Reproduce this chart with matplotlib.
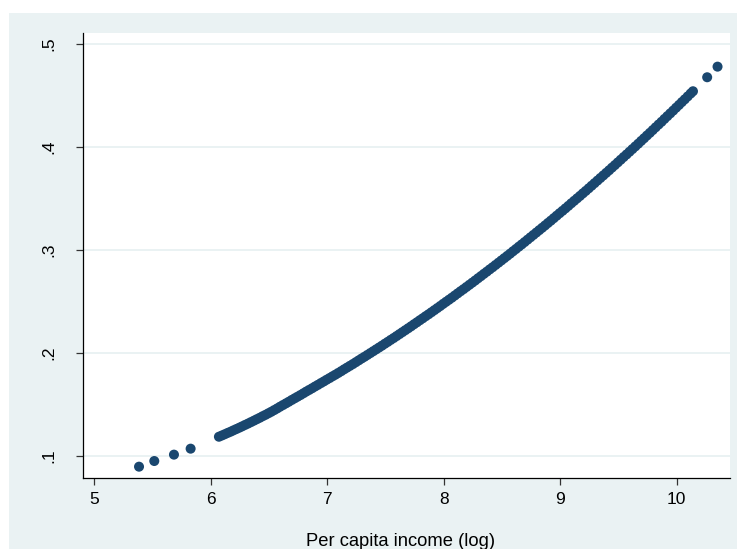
import matplotlib
matplotlib.use("Agg")
import matplotlib.pyplot as plt
from matplotlib.patches import Rectangle

# Isolated low/high points
x_iso = [5.384, 5.515, 5.684, 5.827, 10.262, 10.351]
y_iso = [0.0893, 0.0948, 0.1010, 0.1068, 0.4677, 0.4780]

# Dense band of points
x_dense = [6.07, 6.12, 6.17, 6.22, 6.27, 6.32, 6.37, 6.42, 6.47, 6.52,
           6.57, 6.62, 6.67, 6.72, 6.77, 6.82, 6.87, 6.92, 6.97, 7.02,
           7.07, 7.12, 7.17, 7.22, 7.27, 7.32, 7.37, 7.42, 7.47, 7.52,
           7.57, 7.62, 7.67, 7.72, 7.77, 7.82, 7.87, 7.92, 7.97, 8.02,
           8.07, 8.12, 8.17, 8.22, 8.27, 8.32, 8.37, 8.42, 8.47, 8.52,
           8.57, 8.62, 8.67, 8.72, 8.77, 8.82, 8.87, 8.92, 8.97, 9.02,
           9.07, 9.12, 9.17, 9.22, 9.27, 9.32, 9.37, 9.42, 9.47, 9.52,
           9.57, 9.62, 9.67, 9.72, 9.77, 9.82, 9.87, 9.92, 9.97, 10.02,
           10.07, 10.12, 10.14]
y_dense = [0.1184, 0.1208, 0.1233, 0.1259, 0.1285, 0.1312, 0.1340, 0.1368, 0.1397, 0.1427,
           0.1459, 0.1492, 0.1524, 0.1557, 0.1589, 0.1623, 0.1655, 0.1688, 0.1721, 0.1754,
           0.1787, 0.1821, 0.1856, 0.1890, 0.1926, 0.1961, 0.1997, 0.2033, 0.2069, 0.2106,
           0.2143, 0.2181, 0.2219, 0.2257, 0.2296, 0.2335, 0.2374, 0.2414, 0.2454, 0.2495,
           0.2535, 0.2577, 0.2618, 0.2660, 0.2702, 0.2745, 0.2788, 0.2831, 0.2875, 0.2919,
           0.2963, 0.3008, 0.3053, 0.3099, 0.3145, 0.3191, 0.3237, 0.3284, 0.3332, 0.3379,
           0.3427, 0.3476, 0.3524, 0.3573, 0.3623, 0.3673, 0.3723, 0.3773, 0.3824, 0.3876,
           0.3927, 0.3979, 0.4031, 0.4084, 0.4137, 0.4191, 0.4244, 0.4299, 0.4353, 0.4408,
           0.4463, 0.4519, 0.4541]

# More observations lying between the ones above
x_dense2 = [6.095, 6.145, 6.195, 6.245, 6.295, 6.345, 6.395, 6.445, 6.495, 6.545,
            6.595, 6.645, 6.695, 6.745, 6.795, 6.845, 6.895, 6.945, 6.995, 7.045,
            7.095, 7.145, 7.195, 7.245, 7.295, 7.345, 7.395, 7.445, 7.495, 7.545,
            7.595, 7.645, 7.695, 7.745, 7.795, 7.845, 7.895, 7.945, 7.995, 8.045,
            8.095, 8.145, 8.195, 8.245, 8.295, 8.345, 8.395, 8.445, 8.495, 8.545,
            8.595, 8.645, 8.695, 8.745, 8.795, 8.845, 8.895, 8.945, 8.995, 9.045,
            9.095, 9.145, 9.195, 9.245, 9.295, 9.345, 9.395, 9.445, 9.495, 9.545,
            9.595, 9.645, 9.695, 9.745, 9.795, 9.845, 9.895, 9.945, 9.995, 10.045,
            10.095]
y_dense2 = [0.1196, 0.1221, 0.1246, 0.1272, 0.1299, 0.1326, 0.1354, 0.1383, 0.1412, 0.1443,
            0.1476, 0.1508, 0.1541, 0.1573, 0.1606, 0.1639, 0.1672, 0.1705, 0.1738, 0.1771,
            0.1804, 0.1839, 0.1873, 0.1908, 0.1944, 0.1979, 0.2015, 0.2051, 0.2088, 0.2125,
            0.2162, 0.2200, 0.2238, 0.2277, 0.2316, 0.2355, 0.2394, 0.2434, 0.2475, 0.2515,
            0.2556, 0.2598, 0.2639, 0.2681, 0.2724, 0.2767, 0.2810, 0.2853, 0.2897, 0.2941,
            0.2986, 0.3031, 0.3076, 0.3122, 0.3168, 0.3214, 0.3261, 0.3308, 0.3356, 0.3403,
            0.3452, 0.3500, 0.3549, 0.3598, 0.3648, 0.3698, 0.3748, 0.3799, 0.3850, 0.3902,
            0.3953, 0.4005, 0.4058, 0.4111, 0.4164, 0.4218, 0.4272, 0.4326, 0.4381, 0.4436,
            0.4491]

x_ticks = [5, 6, 7, 8, 9, 10]
x_ticklabels = ["5", "6", "7", "8", "9", "10"]
y_ticks = [0.1, 0.2, 0.3, 0.4, 0.5]
y_ticklabels = [".1", ".2", ".3", ".4", ".5"]
x_title = "Per capita income (log)"

W, H = 737, 549
plt.rcParams['font.family'] = ['Liberation Sans', 'DejaVu Sans']
fig = plt.figure(figsize=(W / 100, H / 100), dpi=100, facecolor='white')

bg = '#EAF2F3'
fig.patches.append(Rectangle((9 / W, 0), 1 - 9 / W, (H - 13) / H,
                             transform=fig.transFigure, facecolor=bg,
                             edgecolor='none', zorder=0))

ax = fig.add_axes([83 / W, (H - 478) / H, (730 - 83) / W, (478 - 33) / H])
ax.set_facecolor('white')
ax.set_zorder(1)

navy = '#1A476F'
for xs, ys in [(x_dense, y_dense), (x_dense2, y_dense2), (x_iso, y_iso)]:
    ax.scatter(xs, ys, s=52, color=navy, edgecolors='none', zorder=3)

ax.set_xlim(4.903, 10.458)
ax.set_ylim(0.0783, 0.5107)

ax.set_xticks(x_ticks)
ax.set_xticklabels(x_ticklabels)
ax.set_yticks(y_ticks)
ax.set_yticklabels(y_ticklabels, rotation=90, va='center')

ax.yaxis.grid(True, color=bg, linewidth=1.4, zorder=1)
ax.xaxis.grid(False)
ax.set_axisbelow(True)

for s in ['top', 'right']:
    ax.spines[s].set_visible(False)
for s in ['left', 'bottom']:
    ax.spines[s].set_color('black')
    ax.spines[s].set_linewidth(0.9)

ax.tick_params(axis='x', direction='out', length=5, width=0.9, color='#333333',
               labelsize=12.5, pad=5)
ax.tick_params(axis='y', direction='out', length=5, width=0.9, color='#333333',
               labelsize=12.5, pad=14)

ax.set_xlabel(x_title, fontsize=13.2)
ax.xaxis.set_label_coords((401 - 83) / (730 - 83), -(533 - 478) / (478 - 33),
                          transform=ax.transAxes)
ax.xaxis.label.set_va('top')

fig.savefig('out.png', dpi=100, facecolor='white')
